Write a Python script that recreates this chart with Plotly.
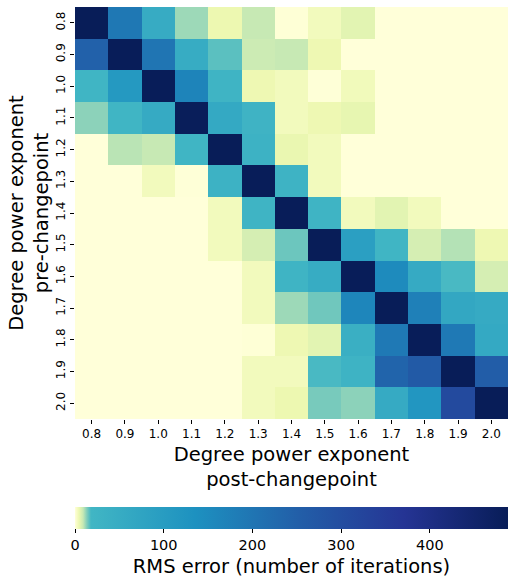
import plotly.graph_objects as go

# Degree power exponents before / after the changepoint
post_labels = ["0.8", "0.9", "1.0", "1.1", "1.2", "1.3", "1.4",
               "1.5", "1.6", "1.7", "1.8", "1.9", "2.0"]
pre_labels = ["0.8", "0.9", "1.0", "1.1", "1.2", "1.3", "1.4",
              "1.5", "1.6", "1.7", "1.8", "1.9", "2.0"]

# RMS error (number of iterations); rows = pre-changepoint, cols = post-changepoint
row_08 = [488, 194, 52, 11.6, 4.5, 9.0, 0.3, 3.2, 5.8, 0, 0, 0, 0]
row_09 = [245, 486, 200, 50, 16.1, 8.4, 9.0, 4.3, 0, 0, 0, 0, 0]
row_10 = [21, 110, 487, 165, 23, 4.3, 3.2, 0.2, 3.4, 0, 0, 0, 0]
row_11 = [12.7, 21, 55, 485, 60, 26, 3.2, 4.3, 5.2, 0, 0, 0, 0]
row_12 = [0, 9.8, 9.0, 21, 488, 30, 4.8, 3.2, 0, 0, 0, 0, 0]
row_13 = [0, 0, 3.2, 0.2, 30, 486, 28, 3.2, 0, 0, 0, 0, 0]
row_14 = [0, 0, 0, 0, 3.2, 25, 487, 25, 3.2, 5.8, 3.2, 0, 0]
row_15 = [0, 0, 0, 0, 3.2, 7.4, 14.9, 488, 90, 22, 7.4, 10.2, 4.3]
row_16 = [0, 0, 0, 0, 0, 3.2, 25, 50, 486, 150, 55, 17.4, 7.4]
row_17 = [0, 0, 0, 0, 0, 3.2, 11.6, 14.6, 160, 488, 175, 65, 55]
row_18 = [0, 0, 0, 0, 0, 0.3, 4.3, 5.8, 40, 190, 487, 190, 60]
row_19 = [0, 0, 0, 0, 0, 3.2, 3.2, 17.4, 28, 240, 265, 488, 255]
row_20 = [0, 0, 0, 0, 0, 3.2, 4.5, 14.0, 12.7, 55, 120, 310, 488]

rms_error = [row_08, row_09, row_10, row_11, row_12, row_13, row_14,
             row_15, row_16, row_17, row_18, row_19, row_20]

z_max = 488
z_knee = 18  # value where the yellow-green half of the palette ends

# YlGnBu, with its light half squeezed into [0, z_knee]
ylgnbu = ["#ffffd9", "#edf8b1", "#c7e9b4", "#7fcdbb", "#41b6c4",
          "#1d91c0", "#225ea8", "#253494", "#081d58"]
knee = z_knee / z_max
colorscale = []
for i, c in enumerate(ylgnbu):
    if i <= 4:
        pos = knee * i / 4
    else:
        pos = knee + (1 - knee) * (i - 4) / 4
    colorscale.append([pos, c])

FONT = "DejaVu Sans"
TITLE_SIZE = 19.5

fig = go.Figure(
    go.Heatmap(
        z=rms_error,
        x=post_labels,
        y=pre_labels,
        zmin=0,
        zmax=z_max,
        colorscale=colorscale,
        colorbar=dict(
            orientation="h",
            x=0.5,
            xanchor="center",
            y=-0.2145,
            yanchor="top",
            len=1,
            lenmode="fraction",
            thickness=22,
            outlinewidth=0,
            xpad=0,
            ypad=0,
            ticks="outside",
            ticklen=4,
            tickcolor="black",
            tickvals=[0, 100, 200, 300, 400],
            tickfont=dict(size=14.5, color="black", family=FONT),
            title=dict(
                text="RMS error (number of iterations)",
                side="bottom",
                font=dict(size=TITLE_SIZE, color="black", family=FONT),
            ),
        ),
    )
)

fig.update_layout(
    width=508,
    height=578,
    margin=dict(l=75, r=0, t=7, b=156),
    paper_bgcolor="white",
    plot_bgcolor="white",
    font=dict(family=FONT, color="black"),
    xaxis=dict(
        type="category",
        ticks="outside",
        ticklen=4,
        tickcolor="black",
        tickfont=dict(size=12),
        showgrid=False,
        zeroline=False,
        showline=False,
        title=dict(
            text="Degree power exponent<br>post-changepoint",
            font=dict(size=TITLE_SIZE),
            standoff=6,
        ),
    ),
    yaxis=dict(
        type="category",
        autorange="reversed",
        ticks="outside",
        ticklen=4,
        tickcolor="black",
        tickangle=-90,
        tickfont=dict(size=12),
        showgrid=False,
        zeroline=False,
        showline=False,
        title=dict(
            text="Degree power exponent<br>pre-changepoint",
            font=dict(size=TITLE_SIZE),
            standoff=0,
        ),
    ),
)

fig.write_html("out.html")
